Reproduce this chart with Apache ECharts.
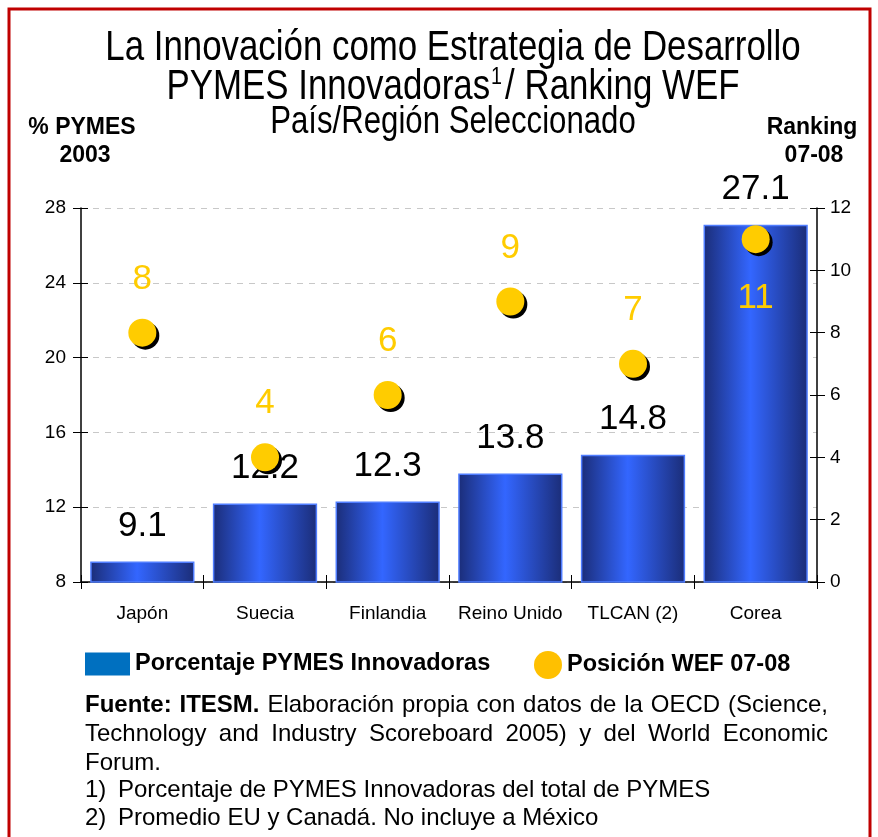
<!DOCTYPE html>
<html>
<head>
<meta charset="utf-8">
<script src="https://cdn.jsdelivr.net/npm/echarts@6/dist/echarts.min.js"></script>
<style>
  html, body { margin: 0; padding: 0; background: #fff; }
  #chart { width: 878px; height: 837px; }
</style>
</head>
<body>
<div id="chart"></div>
<script>
const categories = ['Japón', 'Suecia', 'Finlandia', 'Reino Unido', 'TLCAN (2)', 'Corea']
const pymesPct = [9.1, 12.2, 12.3, 13.8, 14.8, 27.1]
const wefRank = [8, 4, 6, 9, 7, 11]

const SANS = '"Liberation Sans", Arial, sans-serif'
const NARROW_X = 0.82   // Arial Narrow ~ Arial squeezed to 82%

const myChart = echarts.init(document.getElementById('chart'))

// measure text so the footnote lines can be justified like the original
const measureCtx = document.createElement('canvas').getContext('2d')
function textWidth(txt, font) {
    measureCtx.font = font
    return measureCtx.measureText(txt).width
}

function justifyLine(words, x0, x1, y) {
    const els = []
    const widths = words.map(w => textWidth(w.t, w.font))
    const total = widths.reduce((a, b) => a + b, 0)
    const gap = (x1 - x0 - total) / (words.length - 1)
    let x = x0
    words.forEach((w, i) => {
        els.push({
            type: 'text', x: x, y: y, silent: true,
            style: { text: w.t, font: w.font, fill: '#000', textVerticalAlign: 'middle' }
        })
        x += widths[i] + gap
    })
    return els
}

const FN = '24px ' + SANS
const FNB = 'bold 24px ' + SANS
const line1 = [{ t: 'Fuente:', font: FNB }, { t: 'ITESM.', font: FNB }]
    .concat('Elaboración propia con datos de la OECD (Science,'.split(' ').map(t => ({ t: t, font: FN })))
const line2 = 'Technology and Industry Scoreboard 2005) y del World Economic'.split(' ').map(t => ({ t: t, font: FN }))

function centerText(txt, x, y, size, opts) {
    opts = opts || {}
    return {
        type: 'text', x: x, y: y, scaleX: opts.narrow ? NARROW_X : 1, silent: true,
        style: Object.assign({
            text: txt,
            font: (opts.bold ? 'bold ' : '') + size + 'px ' + SANS,
            fill: '#000', textAlign: 'center', textVerticalAlign: 'middle'
        }, opts.style || {})
    }
}

function plainText(txt, x, y) {
    return { type: 'text', x: x, y: y, silent: true, style: { text: txt, font: FN, fill: '#000', textVerticalAlign: 'middle' } }
}

const barGradient = new echarts.graphic.LinearGradient(0, 0, 1, 0, [
    { offset: 0, color: '#1b2d78' },
    { offset: 0.45, color: '#3366ff' },
    { offset: 1, color: '#1b2d78' }
])

const legendText = { fontFamily: SANS, fontSize: 23.5, fontWeight: 'bold', color: '#000' }

const option = {
    animation: false,
    backgroundColor: '#fff',
    legend: [{
        left: 80, top: 647,
        itemWidth: 45, itemHeight: 23,
        textStyle: legendText,
        data: [{ name: 'Porcentaje PYMES Innovadoras', icon: 'rect', itemStyle: { color: '#0070c0', borderWidth: 0 } }]
    }, {
        left: 529, top: 646,
        itemWidth: 28, itemHeight: 28,
        textStyle: legendText,
        data: [{ name: 'Posición WEF 07-08', icon: 'circle', itemStyle: { color: '#ffc000', borderWidth: 0, shadowOffsetX: 0, shadowOffsetY: 0 } }]
    }],
    grid: { left: 81, right: 61, top: 208, bottom: 255 },
    xAxis: [{
        type: 'category',
        data: categories,
        axisLine: { lineStyle: { color: '#000', width: 1.5 } },
        axisTick: { show: true, length: 7, lineStyle: { color: '#000' } },
        axisLabel: { fontFamily: SANS, fontSize: 19, color: '#000', margin: 22, interval: 0 }
    }, {
        type: 'category',
        data: categories,
        position: 'bottom',
        axisLine: { show: false },
        axisTick: { show: true, inside: true, length: 7, lineStyle: { color: '#000' } },
        axisLabel: { show: false }
    }],
    yAxis: [{
        type: 'value', min: 8, max: 28, interval: 4,
        axisLine: { show: true, lineStyle: { color: '#000', width: 1.5 } },
        axisTick: { show: true, length: 8, lineStyle: { color: '#000' } },
        axisLabel: { fontFamily: SANS, fontSize: 19, color: '#000', margin: 15 },
        splitLine: { show: true, lineStyle: { color: '#c8c8c8', type: [6, 6] } }
    }, {
        type: 'value', min: 0, max: 12, interval: 2, position: 'right',
        axisLine: { show: true, lineStyle: { color: '#000', width: 1.5 } },
        axisTick: { show: true, length: 8, lineStyle: { color: '#000' } },
        axisLabel: { fontFamily: SANS, fontSize: 19, color: '#000', margin: 13 },
        splitLine: { show: false }
    }, {
        type: 'value', min: 8, max: 28, interval: 4, position: 'left',
        axisLine: { show: false },
        axisTick: { show: true, inside: true, length: 7, lineStyle: { color: '#000' } },
        axisLabel: { show: false }, splitLine: { show: false }
    }, {
        type: 'value', min: 0, max: 12, interval: 2, position: 'right',
        axisLine: { show: false },
        axisTick: { show: true, inside: true, length: 7, lineStyle: { color: '#000' } },
        axisLabel: { show: false }, splitLine: { show: false }
    }],
    series: [{
        name: 'Porcentaje PYMES Innovadoras',
        type: 'bar',
        yAxisIndex: 0,
        barWidth: '85%',
        data: pymesPct,
        itemStyle: { color: barGradient, borderColor: '#4f7dff', borderWidth: 1.5 },
        label: {
            show: true, position: 'top', distance: 18,
            fontFamily: SANS, fontSize: 35, color: '#000'
        }
    }, {
        name: 'Posición WEF 07-08',
        type: 'scatter',
        yAxisIndex: 1,
        symbolSize: 28,
        z: 5,
        data: wefRank.map((v, i) => ({
            value: v,
            label: i === wefRank.length - 1 ? { position: 'bottom', distance: 28 } : { position: 'top' }
        })),
        itemStyle: {
            color: '#ffcc00', opacity: 1,
            shadowColor: '#000', shadowBlur: 0, shadowOffsetX: 3, shadowOffsetY: 3
        },
        label: {
            show: true, distance: 22,
            fontFamily: SANS, fontSize: 35, color: '#ffcc00'
        }
    }],
    graphic: [{
        type: 'rect',
        shape: { x: 9, y: 9, width: 861, height: 900 },
        style: { fill: 'none', stroke: '#c00000', lineWidth: 3 },
        silent: true
    },
    centerText('La Innovación como Estrategia de Desarrollo', 453, 48, 42.5, { narrow: true }),
    centerText('{a|PYMES Innovadoras}{s|1}{a|/ Ranking WEF}', 453, 87, 42.5, {
        narrow: true,
        style: {
            rich: {
                a: { fontFamily: SANS, fontSize: 42.5, fill: '#000' },
                s: { fontFamily: SANS, fontSize: 24, fill: '#000', verticalAlign: 'top', padding: [0, 4, 20, 1] }
            }
        }
    }),
    centerText('País/Región Seleccionado', 453, 123, 38, { narrow: true }),
    centerText('% PYMES', 82, 128, 23, { bold: true }),
    centerText('2003', 85, 156, 23, { bold: true }),
    centerText('Ranking', 812, 128, 23, { bold: true }),
    centerText('07-08', 814, 156, 23, { bold: true })
    ].concat(justifyLine(line1, 85, 828, 705))
     .concat(justifyLine(line2, 85, 828, 734))
     .concat([
        plainText('Forum.', 85, 763),
        plainText('1)', 85, 790),
        plainText('Porcentaje de PYMES Innovadoras del total de PYMES', 118, 790),
        plainText('2)', 85, 818),
        plainText('Promedio EU y Canadá. No incluye a México', 118, 818)
     ])
}

myChart.setOption(option)
</script>
</body>
</html>
